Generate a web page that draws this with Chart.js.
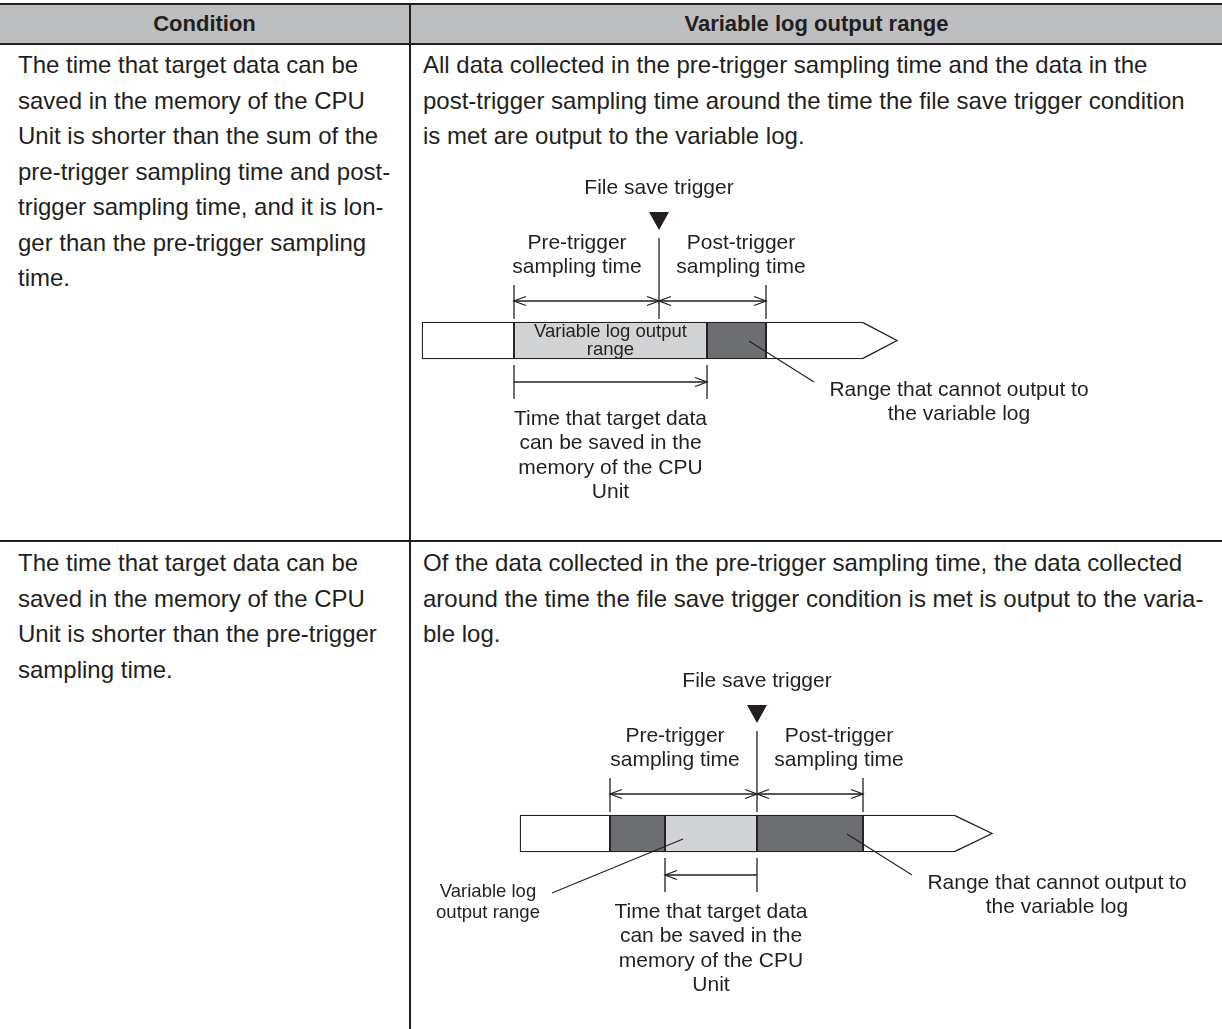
<!DOCTYPE html>
<html>
<head>
<meta charset="utf-8">
<title>Variable log output range</title>
<script src="https://cdn.jsdelivr.net/npm/chart.js@4.4.1/dist/chart.umd.min.js"></script>
<style>
    html, body { margin: 0; padding: 0; background: #fff; }
    body {
        width: 1222px; height: 1029px; position: relative; overflow: hidden;
        font-family: 'Liberation Sans', Arial, sans-serif; color: #231f20;
    }
    .head {
        position: absolute; left: 0; top: 3px; width: 1222px; height: 38px;
        background: #bcbec0; border-top: 2px solid #231f20; border-bottom: 2px solid #231f20;
    }
    .head-text {
        position: absolute; top: 5px; height: 38px; line-height: 38px;
        font-size: 22px; font-weight: bold; text-align: center;
    }
    .vline { position: absolute; left: 409px; top: 3px; width: 2px; height: 1026px; background: #231f20; }
    .hline { position: absolute; left: 0; top: 540px; width: 1222px; height: 2px; background: #231f20; }
    .cell { position: absolute; font-size: 24px; line-height: 35.5px; white-space: pre; }
    .diag { position: absolute; left: 411px; width: 811px; }
</style>
</head>
<body>
<div class="head"></div>
<div class="head-text" style="left:0;width:409px">Condition</div>
<div class="head-text" style="left:411px;width:811px">Variable log output range</div>
<div class="vline"></div>
<div class="hline"></div>

<div class="cell" id="cond1" style="left:18px;top:47px"></div>
<div class="cell" id="range1" style="left:423px;top:47px"></div>
<div class="cell" id="cond2" style="left:18px;top:545px"></div>
<div class="cell" id="range2" style="left:423px;top:545px"></div>

<div class="diag" style="top:140px;height:380px"><canvas id="diagram1" width="811" height="380"></canvas></div>
<div class="diag" style="top:640px;height:389px"><canvas id="diagram2" width="811" height="389"></canvas></div>

<script>
// ---- table text ----
const cond1Lines = ['The time that target data can be', 'saved in the memory of the CPU',
    'Unit is shorter than the sum of the', 'pre-trigger sampling time and post-',
    'trigger sampling time, and it is lon-', 'ger than the pre-trigger sampling', 'time.'];
const range1Lines = ['All data collected in the pre-trigger sampling time and the data in the',
    'post-trigger sampling time around the time the file save trigger condition',
    'is met are output to the variable log.'];
const cond2Lines = ['The time that target data can be', 'saved in the memory of the CPU',
    'Unit is shorter than the pre-trigger', 'sampling time.'];
const range2Lines = ['Of the data collected in the pre-trigger sampling time, the data collected',
    'around the time the file save trigger condition is met is output to the varia-',
    'ble log.'];

// ---- diagram labels ----
const triggerText = 'File save trigger';
const preText = ['Pre-trigger', 'sampling time'];
const postText = ['Post-trigger', 'sampling time'];
const memoryText = ['Time that target data', 'can be saved in the', 'memory of the CPU', 'Unit'];
const lostText = ['Range that cannot output to', 'the variable log'];
const kept1Text = ['Variable log output', 'range'];
const kept2Text = ['Variable log', 'output range'];

// ---- timeline values (file save trigger = 0) ----
const d1Bounds = [-237, -145, 48, 107, 204];
const d1Kinds = ['free', 'kept', 'lost', 'free'];
const d1Window = [-145, 0, 107];      // pre-trigger start, trigger, post-trigger end
const d1Memory = [-145, 48];          // memory arrow: from, to
const d1Tip = 238;

const d2Bounds = [-237, -147, -92, 0, 106, 198];
const d2Kinds = ['free', 'lost', 'kept', 'lost', 'free'];
const d2Window = [-147, 0, 106];
const d2Memory = [0, -92];
const d2Tip = 235;

document.getElementById('cond1').textContent = cond1Lines.join('\n');
document.getElementById('range1').textContent = range1Lines.join('\n');
document.getElementById('cond2').textContent = cond2Lines.join('\n');
document.getElementById('range2').textContent = range2Lines.join('\n');

const INK = '#231f20';
const fills = { free: '#ffffff', kept: '#d1d3d4', lost: '#6d6e71' };
const FONT = '"Liberation Sans", Arial, sans-serif';

function head(ctx, x, y, dir) {
    ctx.beginPath();
    ctx.moveTo(x - dir * 12, y - 4.5);
    ctx.lineTo(x, y);
    ctx.lineTo(x - dir * 12, y + 4.5);
    ctx.stroke();
}

function line(ctx, x1, y1, x2, y2) {
    ctx.beginPath();
    ctx.moveTo(x1, y1);
    ctx.lineTo(x2, y2);
    ctx.stroke();
}

function lines(ctx, text, x, y, step) {
    text.forEach((t, i) => ctx.fillText(t, x, y + i * step));
}

const diagramPlugin = {
    id: 'diagram',
    afterDatasetsDraw(chart, args, o) {
        const ctx = chart.ctx;
        const sx = chart.scales.x;
        const px = v => sx.getPixelForValue(v);
        const bar = chart.getDatasetMeta(0).data[0];
        const top = bar.y - bar.height / 2;
        const bottom = bar.y + bar.height / 2;
        const last = o.bounds[o.bounds.length - 1];
        const t = px(o.window[1]);

        ctx.save();
        ctx.strokeStyle = INK;
        ctx.fillStyle = INK;
        ctx.lineWidth = 1.3;

        // pointed end of the time line
        ctx.beginPath();
        ctx.moveTo(px(last), top + 0.65);
        ctx.lineTo(px(o.tip), bar.y);
        ctx.lineTo(px(last), bottom - 0.65);
        ctx.fillStyle = '#fff';
        ctx.fill();
        ctx.stroke();
        ctx.fillStyle = INK;

        // trigger marker
        ctx.beginPath();
        ctx.moveTo(t - 10, top - 110);
        ctx.lineTo(t + 10, top - 110);
        ctx.lineTo(t, top - 92);
        ctx.closePath();
        ctx.fill();
        line(ctx, t, top - 84, t, top - 3);

        // sampling window
        const a = px(o.window[0]), b = px(o.window[2]);
        line(ctx, a, top - 37, a, top - 3);
        line(ctx, b, top - 37, b, top - 3);
        const ay = top - 21;
        line(ctx, a, ay, t, ay);
        line(ctx, t, ay, b, ay);
        head(ctx, a, ay, -1); head(ctx, t, ay, 1);
        head(ctx, t, ay, -1); head(ctx, b, ay, 1);

        // memory time
        const m0 = px(o.memory[0]), m1 = px(o.memory[1]);
        line(ctx, m0, top + 43, m0, top + 77);
        line(ctx, m1, top + 43, m1, top + 77);
        line(ctx, m0, top + 60, m1, top + 60);
        head(ctx, m1, top + 60, m1 > m0 ? 1 : -1);

        // leader to the range that cannot be output
        ctx.lineWidth = 1.1;
        line(ctx, t + 90, top + 19, t + 155, top + 60);

        ctx.textAlign = 'center';
        ctx.textBaseline = 'middle';
        ctx.font = '21px ' + FONT;
        ctx.fillText(triggerText, t, top - 134);
        lines(ctx, preText, t - 82, top - 79, 24.5);
        lines(ctx, postText, t + 82, top - 79, 24.5);
        lines(ctx, memoryText, (m0 + m1) / 2, top + 97, 24.5);
        lines(ctx, lostText, t + 300, top + 68, 24.5);

        ctx.font = '18.5px ' + FONT;
        if (o.keptInside) {
            const k = o.kinds.indexOf('kept');
            const kx = (px(o.bounds[k]) + px(o.bounds[k + 1])) / 2;
            lines(ctx, kept1Text, kx, top + 10, 17.5);
        } else {
            lines(ctx, kept2Text, t - 269, top + 77, 21);
            line(ctx, t - 205, top + 78, t - 74, top + 24);
        }
        ctx.restore();
    }
};

function makeDiagram(id, bounds, kinds, win, memory, tip, xMin, pad, keptInside) {
    const datasets = kinds.map((k, i) => ({
        label: k,
        data: [[bounds[i], bounds[i + 1]]],
        backgroundColor: fills[k],
        borderColor: INK,
        borderWidth: 1.3,
        borderSkipped: i === kinds.length - 1 ? 'right' : false,
        grouped: false,
        barThickness: 37
    }));
    new Chart(document.getElementById(id).getContext('2d'), {
        type: 'bar',
        data: { labels: ['log'], datasets: datasets },
        options: {
            indexAxis: 'y',
            responsive: false,
            animation: false,
            events: [],
            layout: { padding: pad },
            scales: {
                x: { type: 'linear', min: xMin, max: xMin + 811, display: false },
                y: { display: false }
            },
            plugins: {
                legend: { display: false },
                tooltip: { enabled: false },
                diagram: { bounds: bounds, kinds: kinds, window: win, memory: memory, tip: tip, keptInside: keptInside }
            }
        },
        plugins: [diagramPlugin]
    });
}

makeDiagram('diagram1', d1Bounds, d1Kinds, d1Window, d1Memory, d1Tip, -248, { top: 21, bottom: 0, left: 0, right: 0 }, true);
makeDiagram('diagram2', d2Bounds, d2Kinds, d2Window, d2Memory, d2Tip, -346, { top: 0, bottom: 2, left: 0, right: 0 }, false);
</script>
</body>
</html>
